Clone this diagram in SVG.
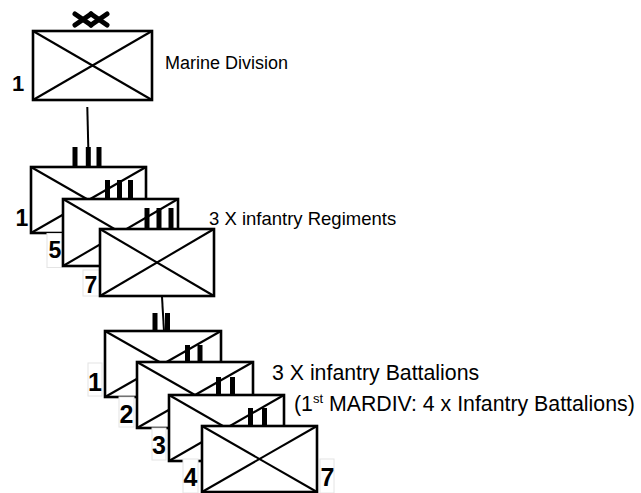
<svg xmlns="http://www.w3.org/2000/svg" width="641" height="493" viewBox="0 0 641 493">
<style>
.box{fill:#fff;stroke:#000;stroke-width:2.6}
.dg{stroke:#000;stroke-width:2.1}
.bar{fill:#000}
.lbl{fill:#fff;stroke:#e4e4e4;stroke-width:1}
.num{font-family:"Liberation Sans",Arial,sans-serif;font-weight:bold;text-anchor:middle;fill:#000}
.txt{font-family:"Liberation Sans",Arial,sans-serif;fill:#000}
.con{stroke:#000;stroke-width:2;fill:none}
</style>
<rect width="641" height="493" fill="#fff"/>
<g id="connectors">
<line class="con" x1="87.3" y1="107" x2="88.3" y2="148"/>
<line class="con" x1="162" y1="297" x2="164" y2="331"/>
</g>
<g id="division">
<g stroke="#000" stroke-width="5" stroke-linecap="round">
<line x1="75" y1="14" x2="91" y2="25"/><line x1="75" y1="25" x2="91" y2="14"/>
<line x1="91" y1="14" x2="107" y2="25"/><line x1="91" y1="25" x2="107" y2="14"/>
</g>
<rect class="box" x="33" y="31" width="119" height="69"/>
<line class="dg" x1="33" y1="31" x2="152" y2="100"/><line class="dg" x1="33" y1="100" x2="152" y2="31"/>
<text class="num" x="18" y="91" font-size="22">1</text>
<text class="txt" x="165" y="69" font-size="18">Marine Division</text>
</g>
<g id="regiment1">
<rect class="bar" x="72.5" y="147" width="5" height="20"/><rect class="bar" x="85.8" y="147" width="5" height="20"/><rect class="bar" x="96.5" y="147" width="5" height="20"/>
<rect class="box" x="31" y="167" width="115" height="66"/>
<line class="dg" x1="31" y1="167" x2="146" y2="233"/><line class="dg" x1="31" y1="233" x2="146" y2="167"/>
<text class="num" x="22" y="226" font-size="23">1</text>
</g>
<g id="regiment5">
<rect class="bar" x="105" y="180" width="5" height="19"/><rect class="bar" x="117" y="180" width="5" height="19"/><rect class="bar" x="128" y="180" width="5" height="19"/>
<rect class="lbl" x="47" y="233.5" width="15" height="34"/>
<text class="num" x="55" y="258" font-size="23">5</text>
<rect class="box" x="63" y="199" width="115" height="67"/>
<line class="dg" x1="63" y1="199" x2="178" y2="266"/><line class="dg" x1="63" y1="266" x2="178" y2="199"/>
</g>
<g id="regiment7">
<rect class="bar" x="144.5" y="208" width="5" height="21"/><rect class="bar" x="156.5" y="208" width="5" height="21"/><rect class="bar" x="168.5" y="208" width="5" height="21"/>
<rect class="lbl" x="83" y="270" width="17" height="26"/>
<text class="num" x="91" y="293" font-size="23">7</text>
<rect class="box" x="100" y="229" width="114" height="67"/>
<line class="dg" x1="100" y1="229" x2="214" y2="296"/><line class="dg" x1="100" y1="296" x2="214" y2="229"/>
<text class="txt" x="209" y="225" font-size="18.5">3 X infantry Regiments</text>
</g>
<g id="battalion1">
<rect class="bar" x="152.5" y="313" width="5" height="18"/><rect class="bar" x="165" y="313" width="5" height="18"/>
<rect class="lbl" x="88" y="363" width="14" height="33"/>
<text class="num" x="95" y="391" font-size="25">1</text>
<rect class="box" x="105" y="331" width="116" height="66"/>
<line class="dg" x1="105" y1="331" x2="221" y2="397"/><line class="dg" x1="105" y1="397" x2="221" y2="331"/>
</g>
<g id="battalion2">
<rect class="bar" x="185" y="345" width="5" height="17"/><rect class="bar" x="197.5" y="345" width="5" height="17"/>
<rect class="lbl" x="119" y="397" width="15" height="30"/>
<text class="num" x="126.5" y="423" font-size="25">2</text>
<rect class="box" x="137" y="362" width="116" height="66"/>
<line class="dg" x1="137" y1="362" x2="253" y2="428"/><line class="dg" x1="137" y1="428" x2="253" y2="362"/>
</g>
<g id="battalion3">
<rect class="bar" x="216" y="377" width="5" height="18"/><rect class="bar" x="230" y="377" width="5" height="18"/>
<rect class="lbl" x="152" y="428" width="14" height="32"/>
<text class="num" x="159" y="454" font-size="25">3</text>
<rect class="box" x="169" y="395" width="115" height="66"/>
<line class="dg" x1="169" y1="395" x2="284" y2="461"/><line class="dg" x1="169" y1="461" x2="284" y2="395"/>
</g>
<g id="battalion4">
<rect class="bar" x="248" y="408" width="5" height="18"/><rect class="bar" x="262" y="408" width="5" height="18"/>
<rect class="lbl" x="183" y="459" width="15" height="34"/>
<text class="num" x="190.5" y="486" font-size="25">4</text>
<rect class="box" x="202" y="426" width="115" height="66"/>
<line class="dg" x1="202" y1="426" x2="317" y2="492"/><line class="dg" x1="202" y1="492" x2="317" y2="426"/>
<rect class="lbl" x="320" y="459" width="14" height="34"/>
<text class="num" x="327.5" y="486" font-size="25">7</text>
</g>
<g id="notes">
<text class="txt" x="272" y="380" font-size="21.3">3 X infantry Battalions</text>
<text class="txt" x="294" y="411" font-size="21.3">(1<tspan font-size="13" dy="-8">st</tspan><tspan dy="8"> MARDIV: 4 x Infantry Battalions)</tspan></text>
</g>
</svg>
